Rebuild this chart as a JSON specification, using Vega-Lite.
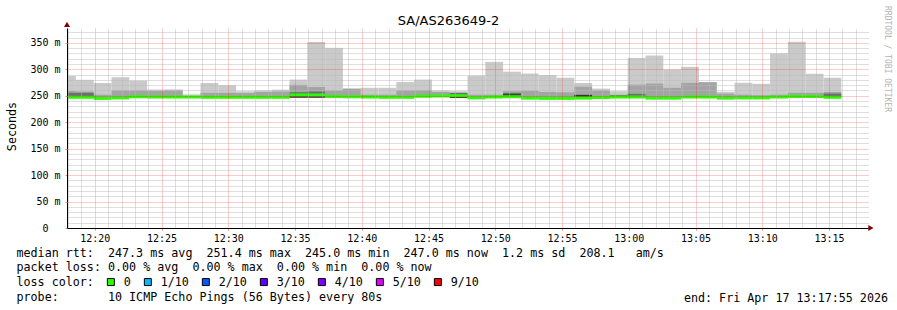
{
  "$schema": "https://vega.github.io/schema/vega-lite/v6.json",
  "width": 801,
  "height": 200,
  "autosize": {"type": "none"},
  "padding": {"left": 67, "top": 28, "right": 29, "bottom": 82},
  "background": "white",
  "config": {"view": {"stroke": null}, "font": "DejaVu Sans Mono"},
  "title": {"text": "end: Fri Apr 17 13:17:55 2026", "orient": "bottom", "anchor": "end", "frame": "group", "dx": 20, "dy": -10, "offset": 0, "font": "DejaVu Sans Mono", "fontSize": 11.7, "fontWeight": "normal", "color": "black"},
  "datasets": {
    "smoke": [
      {"s": "2026-04-17T12:17:55Z", "e": "2026-04-17T12:18:35Z", "hi": 287.5, "m": 259, "d": 255.5, "med": 247, "lo": 247, "loss": "0"},
      {"s": "2026-04-17T12:18:35Z", "e": "2026-04-17T12:19:55Z", "hi": 280, "m": 258, "d": 255.5, "med": 247, "lo": 247, "loss": "0"},
      {"s": "2026-04-17T12:19:55Z", "e": "2026-04-17T12:21:15Z", "hi": 274, "m": 252, "med": 245, "lo": 245, "loss": "0"},
      {"s": "2026-04-17T12:21:15Z", "e": "2026-04-17T12:22:35Z", "hi": 285, "m": 260, "med": 246, "lo": 246, "loss": "0"},
      {"s": "2026-04-17T12:22:35Z", "e": "2026-04-17T12:23:55Z", "hi": 278.5, "m": 260, "med": 248, "lo": 248, "loss": "0"},
      {"s": "2026-04-17T12:23:55Z", "e": "2026-04-17T12:25:15Z", "hi": 262, "m": 259, "med": 247.5, "lo": 247.5, "loss": "0"},
      {"s": "2026-04-17T12:25:15Z", "e": "2026-04-17T12:26:35Z", "hi": 262, "m": 260, "med": 247.5, "lo": 247.5, "loss": "0"},
      {"s": "2026-04-17T12:26:35Z", "e": "2026-04-17T12:27:55Z", "hi": 252.5, "med": 247.5, "lo": 247.5, "loss": "0"},
      {"s": "2026-04-17T12:27:55Z", "e": "2026-04-17T12:29:15Z", "hi": 274, "m": 255.5, "med": 247, "lo": 247, "loss": "0"},
      {"s": "2026-04-17T12:29:15Z", "e": "2026-04-17T12:30:35Z", "hi": 270, "m": 255.5, "med": 247, "lo": 247, "loss": "0"},
      {"s": "2026-04-17T12:30:35Z", "e": "2026-04-17T12:31:55Z", "hi": 258.5, "m": 255, "med": 247, "lo": 247, "loss": "0"},
      {"s": "2026-04-17T12:31:55Z", "e": "2026-04-17T12:33:15Z", "hi": 260, "m": 257, "med": 247, "lo": 247, "loss": "0"},
      {"s": "2026-04-17T12:33:15Z", "e": "2026-04-17T12:34:35Z", "hi": 261.5, "m": 258, "med": 247, "lo": 247, "loss": "0"},
      {"s": "2026-04-17T12:34:35Z", "e": "2026-04-17T12:35:55Z", "hi": 280.5, "m": 270.5, "d": 256.5, "k": 247.5, "med": 251.5, "lo": 247.5, "loss": "0"},
      {"s": "2026-04-17T12:35:55Z", "e": "2026-04-17T12:37:15Z", "hi": 351.5, "m": 266.5, "d": 258, "k": 247.5, "med": 251.4, "lo": 247.5, "loss": "0"},
      {"s": "2026-04-17T12:37:15Z", "e": "2026-04-17T12:38:35Z", "hi": 340.5, "m": 260, "med": 248.5, "lo": 248.5, "loss": "0"},
      {"s": "2026-04-17T12:38:35Z", "e": "2026-04-17T12:39:55Z", "hi": 264, "m": 263, "med": 248, "lo": 248, "loss": "0"},
      {"s": "2026-04-17T12:39:55Z", "e": "2026-04-17T12:41:15Z", "hi": 265, "m": 252, "med": 247.5, "lo": 247.5, "loss": "0"},
      {"s": "2026-04-17T12:41:15Z", "e": "2026-04-17T12:42:35Z", "hi": 265, "m": 252, "med": 247, "lo": 247, "loss": "0"},
      {"s": "2026-04-17T12:42:35Z", "e": "2026-04-17T12:43:55Z", "hi": 276, "m": 260, "med": 247, "lo": 247, "loss": "0"},
      {"s": "2026-04-17T12:43:55Z", "e": "2026-04-17T12:45:15Z", "hi": 280.5, "m": 260, "med": 249, "lo": 249, "loss": "0"},
      {"s": "2026-04-17T12:45:15Z", "e": "2026-04-17T12:46:35Z", "hi": 260, "m": 257, "med": 249.5, "lo": 249.5, "loss": "0"},
      {"s": "2026-04-17T12:46:35Z", "e": "2026-04-17T12:47:55Z", "hi": 258.5, "d": 255.5, "k": 247, "med": 250, "lo": 247, "loss": "0"},
      {"s": "2026-04-17T12:47:55Z", "e": "2026-04-17T12:49:15Z", "hi": 288, "m": 252, "med": 246, "lo": 246, "loss": "0"},
      {"s": "2026-04-17T12:49:15Z", "e": "2026-04-17T12:50:35Z", "hi": 314, "m": 252, "med": 247.5, "lo": 247.5, "loss": "0"},
      {"s": "2026-04-17T12:50:35Z", "e": "2026-04-17T12:51:55Z", "hi": 295.5, "m": 258.5, "d": 255.3, "k": 251.5, "med": 248, "lo": 248, "loss": "0"},
      {"s": "2026-04-17T12:51:55Z", "e": "2026-04-17T12:53:15Z", "hi": 292, "m": 259.5, "med": 245.5, "lo": 245.5, "loss": "0"},
      {"s": "2026-04-17T12:53:15Z", "e": "2026-04-17T12:54:35Z", "hi": 289, "m": 257, "med": 245, "lo": 245, "loss": "0"},
      {"s": "2026-04-17T12:54:35Z", "e": "2026-04-17T12:55:55Z", "hi": 284, "m": 256.5, "med": 245, "lo": 245, "loss": "0"},
      {"s": "2026-04-17T12:55:55Z", "e": "2026-04-17T12:57:15Z", "hi": 274, "m": 267, "d": 252, "k": 250, "med": 245.5, "lo": 245.5, "loss": "0"},
      {"s": "2026-04-17T12:57:15Z", "e": "2026-04-17T12:58:35Z", "hi": 263.5, "m": 260, "med": 246.5, "lo": 246.5, "loss": "0"},
      {"s": "2026-04-17T12:58:35Z", "e": "2026-04-17T12:59:55Z", "hi": 258.5, "d": 251.5, "med": 247.5, "lo": 247.5, "loss": "0"},
      {"s": "2026-04-17T12:59:55Z", "e": "2026-04-17T13:01:15Z", "hi": 321.5, "m": 271, "d": 253.5, "med": 247.5, "lo": 247.5, "loss": "0"},
      {"s": "2026-04-17T13:01:15Z", "e": "2026-04-17T13:02:35Z", "hi": 326, "m": 273, "med": 245.5, "lo": 245.5, "loss": "0"},
      {"s": "2026-04-17T13:02:35Z", "e": "2026-04-17T13:03:55Z", "hi": 299.5, "m": 265, "med": 245.5, "lo": 245.5, "loss": "0"},
      {"s": "2026-04-17T13:03:55Z", "e": "2026-04-17T13:05:15Z", "hi": 304.5, "m": 274.5, "med": 247.5, "lo": 247.5, "loss": "0"},
      {"s": "2026-04-17T13:05:15Z", "e": "2026-04-17T13:06:35Z", "hi": 276, "m": 275.5, "med": 247.5, "lo": 247.5, "loss": "0"},
      {"s": "2026-04-17T13:06:35Z", "e": "2026-04-17T13:07:55Z", "hi": 257.5, "m": 254, "med": 245.5, "lo": 245.5, "loss": "0"},
      {"s": "2026-04-17T13:07:55Z", "e": "2026-04-17T13:09:15Z", "hi": 274.5, "m": 252, "med": 246, "lo": 246, "loss": "0"},
      {"s": "2026-04-17T13:09:15Z", "e": "2026-04-17T13:10:35Z", "hi": 272.5, "m": 251, "med": 246, "lo": 246, "loss": "0"},
      {"s": "2026-04-17T13:10:35Z", "e": "2026-04-17T13:11:55Z", "hi": 330, "m": 252, "med": 247.5, "lo": 247.5, "loss": "0"},
      {"s": "2026-04-17T13:11:55Z", "e": "2026-04-17T13:13:15Z", "hi": 352, "m": 255.5, "med": 248.5, "lo": 248.5, "loss": "0"},
      {"s": "2026-04-17T13:13:15Z", "e": "2026-04-17T13:14:35Z", "hi": 291.5, "m": 255.5, "med": 248.5, "lo": 248.5, "loss": "0"},
      {"s": "2026-04-17T13:14:35Z", "e": "2026-04-17T13:15:55Z", "hi": 284, "m": 257, "d": 254, "med": 247, "lo": 247, "loss": "0"}
    ]
  },
  "resolve": {"axis": {"x": "independent", "y": "independent"}},
  "layer": [
    {
      "data": {"name": "smoke"},
      "layer": [
        {
          "mark": {"type": "rect", "color": "#cacaca"},
          "encoding": {
            "x": {
              "field": "s", "type": "temporal",
              "scale": {"type": "utc", "domain": [1776428275000, 1776431875000]},
              "axis": {
                "orient": "bottom",
                "values": [1776428400000, 1776428700000, 1776429000000, 1776429300000, 1776429600000, 1776429900000, 1776430200000, 1776430500000, 1776430800000, 1776431100000, 1776431400000, 1776431700000],
                "labelExpr": "utcFormat(datum.value, '%H:%M')",
                "labelFont": "DejaVu Sans Mono", "labelFontSize": 10, "labelColor": "black", "labelPadding": 3,
                "labelOverlap": false, "labelFlush": false, "labelAngle": 0,
                "grid": true, "gridColor": "#ff0000", "gridOpacity": 0.4, "gridDash": [1, 1], "gridWidth": 1,
                "ticks": true, "tickSize": 2, "tickColor": "#ff8080",
                "domain": true, "domainColor": "black", "domainWidth": 1,
                "title": [
                  "median rtt:\u00a0\u00a0247.3 ms avg\u00a0\u00a0251.4 ms max\u00a0\u00a0245.0 ms min\u00a0\u00a0247.0 ms now\u00a0\u00a01.2 ms sd\u00a0\u00a0208.1\u00a0\u00a0\u00a0am/s",
                  "packet loss: 0.00 % avg\u00a0\u00a00.00 % max\u00a0\u00a00.00 % min\u00a0\u00a00.00 % now",
                  "loss color:",
                  "probe:\u00a0\u00a0\u00a0\u00a0\u00a0\u00a0\u00a010 ICMP Echo Pings (56 Bytes) every 80s"
                ],
                "titleX": -51, "titleY": 19, "titleAlign": "left", "titleAnchor": "start", "titleBaseline": "top",
                "titleFont": "DejaVu Sans Mono", "titleFontSize": 11.7, "titleFontWeight": "normal", "titleColor": "black", "titleLineHeight": 14.9,
                "zindex": 1
              }
            },
            "x2": {"field": "e"},
            "y": {
              "field": "hi", "type": "quantitative",
              "scale": {"domain": [0, 378], "nice": false, "zero": true},
              "axis": {
                "orient": "left",
                "values": [0, 100, 200, 300],
                "labelExpr": "datum.value == 0 ? '0' : datum.value + ' m'",
                "labelFont": "DejaVu Sans Mono", "labelFontSize": 10, "labelColor": "black",
                "labelPadding": {"condition": {"test": "datum.value == 0", "value": 17}, "value": 5},
                "labelOverlap": false, "labelFlush": false,
                "grid": true, "gridColor": "#ff0000", "gridOpacity": 0.4, "gridDash": [1, 1], "gridWidth": 1,
                "ticks": true, "tickSize": 2, "tickColor": "#ff8080",
                "domain": true, "domainColor": "black", "domainWidth": 1,
                "title": "Seconds", "titleX": -56, "titleY": 98, "titleAngle": 270, "titleAlign": "center", "titleBaseline": "middle",
                "titleFont": "DejaVu Sans Mono", "titleFontSize": 11.7, "titleFontWeight": "normal", "titleColor": "black",
                "zindex": 1
              }
            },
            "y2": {"field": "lo"}
          }
        },
        {
          "transform": [{"filter": "datum.m != null"}],
          "mark": {"type": "rect", "color": "#a4a4a4"},
          "encoding": {
            "x": {"field": "s", "type": "temporal"},
            "x2": {"field": "e"},
            "y": {"field": "m", "type": "quantitative"},
            "y2": {"field": "lo"}
          }
        },
        {
          "transform": [{"filter": "datum.d != null"}],
          "mark": {"type": "rect", "color": "#6e6e6e"},
          "encoding": {
            "x": {"field": "s", "type": "temporal"},
            "x2": {"field": "e"},
            "y": {"field": "d", "type": "quantitative"},
            "y2": {"field": "lo"}
          }
        },
        {
          "transform": [{"filter": "datum.k != null"}],
          "mark": {"type": "rule", "color": "#323232", "strokeWidth": 1.5, "strokeCap": "butt"},
          "encoding": {
            "x": {"field": "s", "type": "temporal"},
            "x2": {"field": "e"},
            "y": {"field": "k", "type": "quantitative"}
          }
        },
        {
          "mark": {"type": "rule", "color": "#26ff00", "strokeWidth": 3, "strokeCap": "butt"},
          "encoding": {
            "x": {"field": "s", "type": "temporal"},
            "x2": {"field": "e"},
            "y": {"field": "med", "type": "quantitative"}
          }
        },
        {
          "mark": {"type": "square", "filled": true, "opacity": 0},
          "encoding": {
            "x": {"field": "s", "type": "temporal"},
            "y": {"field": "med", "type": "quantitative"},
            "color": {
              "field": "loss", "type": "nominal",
              "scale": {"domain": ["0", "1/10", "2/10", "3/10", "4/10", "5/10", "9/10"], "range": ["#26ff00", "#00b8ff", "#0059ff", "#5e00ff", "#7e00ff", "#dd00ff", "#ff0000"]},
              "legend": {
                "title": null, "orient": "none", "legendX": 38, "legendY": 248, "direction": "horizontal",
                "labelFont": "DejaVu Sans Mono", "labelFontSize": 11.7, "labelColor": "black", "labelOffset": 7,
                "symbolType": "square", "symbolSize": 49, "symbolStrokeWidth": 1, "symbolStrokeColor": "black", "symbolOpacity": 1,
                "columnPadding": 11, "padding": 0
              }
            }
          }
        },
        {
          "data": {"values": [{}]},
          "mark": {"type": "point", "shape": "triangle-up", "filled": true, "color": "#800000", "opacity": 1, "size": 36, "clip": false},
          "encoding": {
            "x": {"datum": 1776428275000, "type": "temporal"},
            "y": {"datum": 385, "type": "quantitative"}
          }
        },
        {
          "data": {"values": [{}]},
          "mark": {"type": "point", "shape": "triangle-right", "filled": true, "color": "#800000", "opacity": 1, "size": 36, "clip": false},
          "encoding": {
            "x": {"datum": 1776431888000, "type": "temporal"},
            "y": {"datum": 0, "type": "quantitative"}
          }
        }
      ]
    },
    {
      "data": {"name": "smoke"},
      "mark": {"type": "point", "opacity": 0},
      "encoding": {
        "x": {
          "field": "s", "type": "temporal",
          "axis": {
            "orient": "top",
            "values": [1776428280000, 1776428340000, 1776428460000, 1776428520000, 1776428580000, 1776428640000, 1776428760000, 1776428820000, 1776428880000, 1776428940000, 1776429060000, 1776429120000, 1776429180000, 1776429240000, 1776429360000, 1776429420000, 1776429480000, 1776429540000, 1776429660000, 1776429720000, 1776429780000, 1776429840000, 1776429960000, 1776430020000, 1776430080000, 1776430140000, 1776430260000, 1776430320000, 1776430380000, 1776430440000, 1776430560000, 1776430620000, 1776430680000, 1776430740000, 1776430860000, 1776430920000, 1776430980000, 1776431040000, 1776431160000, 1776431220000, 1776431280000, 1776431340000, 1776431460000, 1776431520000, 1776431580000, 1776431640000, 1776431760000, 1776431820000],
            "labels": false, "ticks": false, "domain": false,
            "grid": true, "gridColor": "#b8b8b8", "gridOpacity": 0.9, "gridDash": [1, 1], "gridWidth": 1,
            "title": "SA/AS263649-2", "titleX": 381, "titleY": -4, "titleAlign": "center", "titleBaseline": "alphabetic",
            "titleFont": "DejaVu Sans", "titleFontSize": 13, "titleFontWeight": "normal", "titleColor": "black",
            "zindex": 1
          }
        },
        "y": {
          "field": "hi", "type": "quantitative",
          "axis": {
            "orient": "right",
            "values": [10, 20, 30, 40, 60, 70, 80, 90, 110, 120, 130, 140, 160, 170, 180, 190, 210, 220, 230, 240, 260, 270, 280, 290, 310, 320, 330, 340, 360, 370],
            "labels": false, "ticks": false, "domain": false,
            "grid": true, "gridColor": "#b8b8b8", "gridOpacity": 0.9, "gridDash": [1, 1], "gridWidth": 1,
            "title": "RRDTOOL / TOBI OETIKER", "titleAngle": 90, "titleX": 18, "titleY": 30.5, "titleAlign": "center", "titleBaseline": "middle",
            "titleFont": "DejaVu Sans Mono", "titleFontSize": 8, "titleFontWeight": "normal", "titleColor": "#b4b4b4",
            "zindex": 1
          }
        }
      }
    },
    {
      "data": {"name": "smoke"},
      "mark": {"type": "point", "opacity": 0},
      "encoding": {
        "x": {"field": "s", "type": "temporal", "axis": null},
        "y": {
          "field": "hi", "type": "quantitative",
          "axis": {
            "orient": "left", "offset": 0,
            "values": [50, 150, 250, 350],
            "labelExpr": "datum.value + ' m'",
            "labelFont": "DejaVu Sans Mono", "labelFontSize": 10, "labelColor": "black", "labelPadding": 5,
            "labelOverlap": false, "labelFlush": false,
            "grid": true, "gridColor": "#ff0000", "gridOpacity": 0.4, "gridDash": [1, 1], "gridWidth": 1,
            "ticks": true, "tickSize": 2, "tickColor": "#ff8080",
            "domain": false, "title": null,
            "zindex": 1
          }
        }
      }
    }
  ]
}
